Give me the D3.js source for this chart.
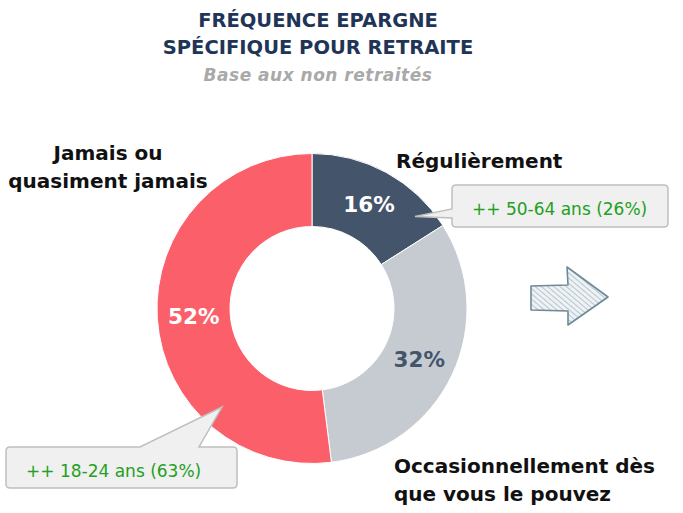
<!DOCTYPE html>
<html><head><meta charset="utf-8">
<script src="https://cdn.jsdelivr.net/npm/d3@7"></script>
<style>body{margin:0;background:#fff;} svg{display:block;}</style>
</head><body>
<svg id="c" width="683" height="513"></svg>
<script>
const categories = ["Régulièrement", "Occasionnellement dès que vous le pouvez", "Jamais ou quasiment jamais"];
const values = [16, 32, 52];
const colors = ["#44546A", "#C6CBD2", "#FB5F69"];
const valueColors = ["#FFFFFF", "#44546A", "#FFFFFF"];
const titleLines = ["FRÉQUENCE EPARGNE", "SPÉCIFIQUE POUR RETRAITE"];
const subtitle = "Base aux non retraités";
const callouts = ["++ 50-64 ans (26%)", "++ 18-24 ans (63%)"];

const svg = d3.select("#c");
const font = "'DejaVu Sans', sans-serif";
const cx = 312, cy = 308.5, rOut = 155, rIn = 82;

// Title
svg.selectAll("text.title").data(titleLines).join("text")
  .attr("x", 318).attr("y", (d,i)=>27 + i*27)
  .attr("text-anchor","middle").attr("font-family",font).attr("font-weight","bold")
  .attr("font-size",19.5).attr("fill","#1F3558").text(d=>d);
svg.append("text").attr("x",318).attr("y",81).attr("text-anchor","middle")
  .attr("font-family",font).attr("font-style","italic").attr("font-weight","bold")
  .attr("font-size",17).attr("letter-spacing",0.5).attr("fill","#A9A9A9").text(subtitle);

// Donut
const pie = d3.pie().sort(null).value(d=>d);
const arc = d3.arc().innerRadius(rIn).outerRadius(rOut);
const g = svg.append("g").attr("transform",`translate(${cx},${cy})`);
const arcs = pie(values);
g.selectAll("path").data(arcs).join("path")
  .attr("d",arc).attr("fill",(d,i)=>colors[i])
  .attr("stroke","#fff").attr("stroke-width",1);
g.selectAll("text").data(arcs).join("text")
  .attr("transform",d=>`translate(${arc.centroid(d)})`)
  .attr("dy","0.36em").attr("text-anchor","middle")
  .attr("font-family",font).attr("font-weight","bold").attr("font-size",21.5)
  .attr("fill",(d,i)=>valueColors[i]).text(d=>d.data+"%");

// Category labels
const lab = (lines, x, y, anchor) => {
  const t = svg.append("text").attr("font-family",font).attr("font-weight","bold")
    .attr("font-size",20).attr("fill","#111").attr("text-anchor",anchor);
  lines.forEach((l,i)=>t.append("tspan").attr("x",x).attr("y",y+i*28).text(l));
};
lab(["Jamais ou","quasiment jamais"], 108, 160, "middle");
lab(["Régulièrement"], 396, 168, "start");
lab(["Occasionnellement dès","que vous le pouvez"], 394, 473, "start");

// Callouts
svg.append("path")
  .attr("d","M456,185 H664 Q668,185 668,189 V223 Q668,227 664,227 H456 Q452,227 452,223 V218 L415,216.5 L452,209 V189 Q452,185 456,185 Z")
  .attr("fill","#F0F0F0").attr("stroke","#BFBFBF").attr("stroke-width",1.5);
svg.append("text").attr("x",472).attr("y",215).attr("font-family",font)
  .attr("font-size",17).attr("fill","#22A022").text(callouts[0]);

svg.append("path")
  .attr("d","M10,447 H140 L222,407 L199,447 H233 Q237,447 237,451 V484 Q237,488 233,488 H10 Q6,488 6,484 V451 Q6,447 10,447 Z")
  .attr("fill","#F0F0F0").attr("stroke","#BFBFBF").attr("stroke-width",1.5);
svg.append("text").attr("x",26).attr("y",477).attr("font-family",font)
  .attr("font-size",17).attr("fill","#22A022").text(callouts[1]);

// Sketched arrow
const defs = svg.append("defs");
const pat = defs.append("pattern").attr("id","hatch").attr("patternUnits","userSpaceOnUse")
  .attr("width",4).attr("height",4).attr("patternTransform","rotate(-50)");
pat.append("rect").attr("width",4).attr("height",4).attr("fill","#EEF2F4");
pat.append("line").attr("x1",0).attr("y1",0).attr("x2",0).attr("y2",4)
  .attr("stroke","#A9BAC6").attr("stroke-width",1.6);
svg.append("path")
  .attr("d","M531,286 L568,285 L567,267 L608,297 L568,325 L568,311 L531,310 Z")
  .attr("fill","url(#hatch)").attr("stroke","#6F8998").attr("stroke-width",1.6)
  .attr("stroke-linejoin","round");
</script>
</body></html>
